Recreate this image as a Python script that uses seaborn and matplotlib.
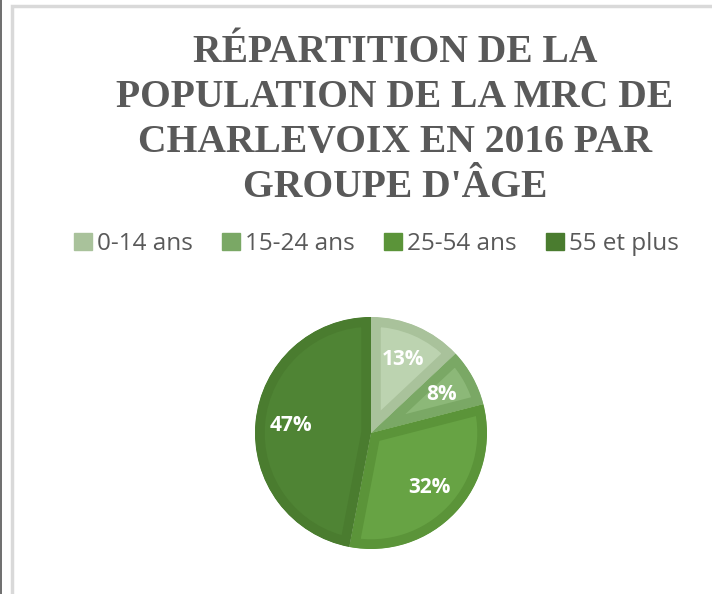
import seaborn as sns
import matplotlib.pyplot as plt
from matplotlib.lines import Line2D
from matplotlib.patches import Rectangle

# Data
groups = ["0-14 ans", "15-24 ans", "25-54 ans", "55 et plus"]
shares = [13, 8, 32, 47]
fillColors = ["#bcd3b0", "#8cb878", "#67a344", "#4f8434"]
edgeColors = ["#a9c29b", "#7aa865", "#5b9439", "#4a7c2f"]
title = "RÉPARTITION DE LA\nPOPULATION DE LA MRC DE\nCHARLEVOIX EN 2016 PAR\nGROUPE D'ÂGE"

sns.set_theme(style="white")
plt.rcParams['font.family'] = ['Open Sans', 'DejaVu Sans']

fig = plt.figure(figsize=(7.12, 5.94), dpi=100)

# chart frame like the original screenshot
fig.add_artist(Line2D([0.0014, 0.0014], [0, 1], color="#555555", lw=1.2))
fig.add_artist(Rectangle((12 / 712, -0.05), 1.0, 1 - 6 / 594 + 0.05, transform=fig.transFigure,
                         fill=False, edgecolor="#d9d9d9", lw=2.5))

# Title
fig.text(395 / 712, 1 - 120 / 594, title, ha="center", va="center", fontsize=28.5,
         fontweight="bold", family=["Liberation Serif", "DejaVu Serif"], color="#595959",
         linespacing=1.28)

# Pie
r = 116
ax = fig.add_axes([(371 - r) / 712, 1 - (433 + r) / 594, 2 * r / 712, 2 * r / 594])
wedges, texts, autotexts = ax.pie(shares, colors=fillColors, startangle=90, counterclock=False,
                                  autopct="%d%%", pctdistance=0.69,
                                  wedgeprops=dict(linewidth=14),
                                  textprops=dict(color="white", fontsize=15, fontweight="bold"))
# inner border: stroke clipped to each wedge
for w, ec in zip(wedges, edgeColors):
    w.set_edgecolor(ec)
    w.set_clip_on(True)
    w.set_clip_path(w)
ax.set_xlim(-1, 1)
ax.set_ylim(-1, 1)
ax.axis("off")

# Legend
handles = [plt.Rectangle((0, 0), 1, 1, color=c) for c in edgeColors]
fig.legend(handles, groups, loc="center", bbox_to_anchor=(376 / 712, 1 - 244 / 594), ncol=4,
           frameon=False, fontsize=17.5, labelcolor="#595959", handlelength=0.75, handleheight=0.75,
           handletextpad=0.2, columnspacing=1.2)

fig.savefig("out.png", dpi=100)
